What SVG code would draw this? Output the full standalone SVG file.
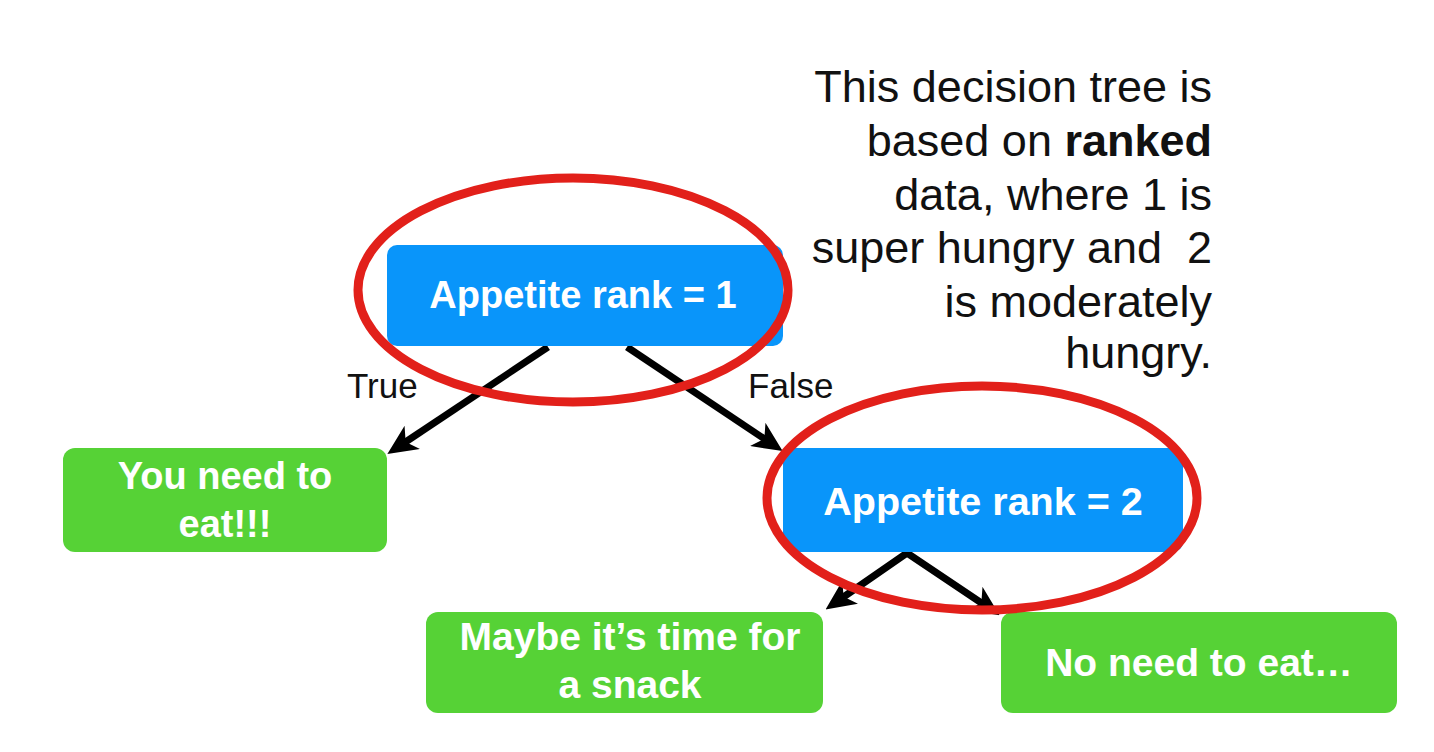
<svg xmlns="http://www.w3.org/2000/svg" width="1434" height="752" viewBox="0 0 1434 752">
  <style>
    .blue { fill: #0995fa; }
    .green { fill: #56d236; }
    .ntext { font-family: "Liberation Sans", Arial, sans-serif; font-weight: bold; fill: #ffffff; text-anchor: middle; }
    .label { font-family: "Liberation Sans", Arial, sans-serif; fill: #111111; font-size: 35px; }
    .note { font-family: "Liberation Sans", Arial, sans-serif; fill: #111111; font-size: 45px; text-anchor: end; white-space: pre; }
    .conn { stroke: #000000; stroke-width: 7; fill: none; marker-end: url(#arrow); }
    .ring { fill: none; stroke: #e2201a; stroke-width: 9; }
  </style>
  <defs>
    <marker id="arrow" markerUnits="userSpaceOnUse" markerWidth="30" markerHeight="28" viewBox="0 0 30 28" refX="10" refY="14" orient="auto">
      <path d="M0,0 L30,14 L0,28 L8,14 Z" fill="#000000"/>
    </marker>
  </defs>
  <rect width="1434" height="752" fill="#ffffff"/>

  <g id="note">
    <text class="note" x="1212" y="102">This decision tree is</text>
    <text class="note" x="1212" y="156">based on <tspan font-weight="bold">ranked</tspan></text>
    <text class="note" x="1212" y="210">data, where 1 is</text>
    <text class="note" x="1212" y="263">super hungry and  2</text>
    <text class="note" x="1212" y="317">is moderately</text>
    <text class="note" x="1212" y="368">hungry.</text>
  </g>

  <g id="connectors">
    <line class="conn" x1="548" y1="347" x2="404" y2="443"/>
    <line class="conn" x1="627" y1="347" x2="766" y2="440"/>
    <line class="conn" x1="907" y1="553" x2="842" y2="598" stroke-linecap="round"/>
    <line class="conn" x1="907" y1="553" x2="983" y2="604" stroke-linecap="round"/>
    <text class="label" x="347" y="398">True</text>
    <text class="label" x="748" y="398">False</text>
  </g>

  <g id="node-rank1">
    <rect class="blue" x="387" y="245" width="396" height="101" rx="10"/>
    <text class="ntext" x="583" y="308" font-size="38">Appetite rank = 1</text>
  </g>

  <g id="node-rank2">
    <rect class="blue" x="783" y="448" width="400" height="104" rx="10"/>
    <text class="ntext" x="983" y="515" font-size="39.5">Appetite rank = 2</text>
  </g>

  <g id="node-eat">
    <rect class="green" x="63" y="448" width="324" height="104" rx="12"/>
    <text class="ntext" x="225" y="489" font-size="38">You need to</text>
    <text class="ntext" x="225" y="537" font-size="38">eat!!!</text>
  </g>

  <g id="node-snack">
    <rect class="green" x="426" y="612" width="397" height="101" rx="12"/>
    <text class="ntext" x="630" y="650" font-size="39">Maybe it’s time for</text>
    <text class="ntext" x="630" y="698" font-size="39">a snack</text>
  </g>

  <g id="node-noeat">
    <rect class="green" x="1001" y="612" width="396" height="101" rx="12"/>
    <text class="ntext" x="1199" y="676" font-size="39">No need to eat…</text>
  </g>

  <g id="highlights">
    <ellipse class="ring" cx="573" cy="290" rx="215" ry="112"/>
    <ellipse class="ring" cx="982" cy="498" rx="215" ry="112"/>
  </g>
</svg>
